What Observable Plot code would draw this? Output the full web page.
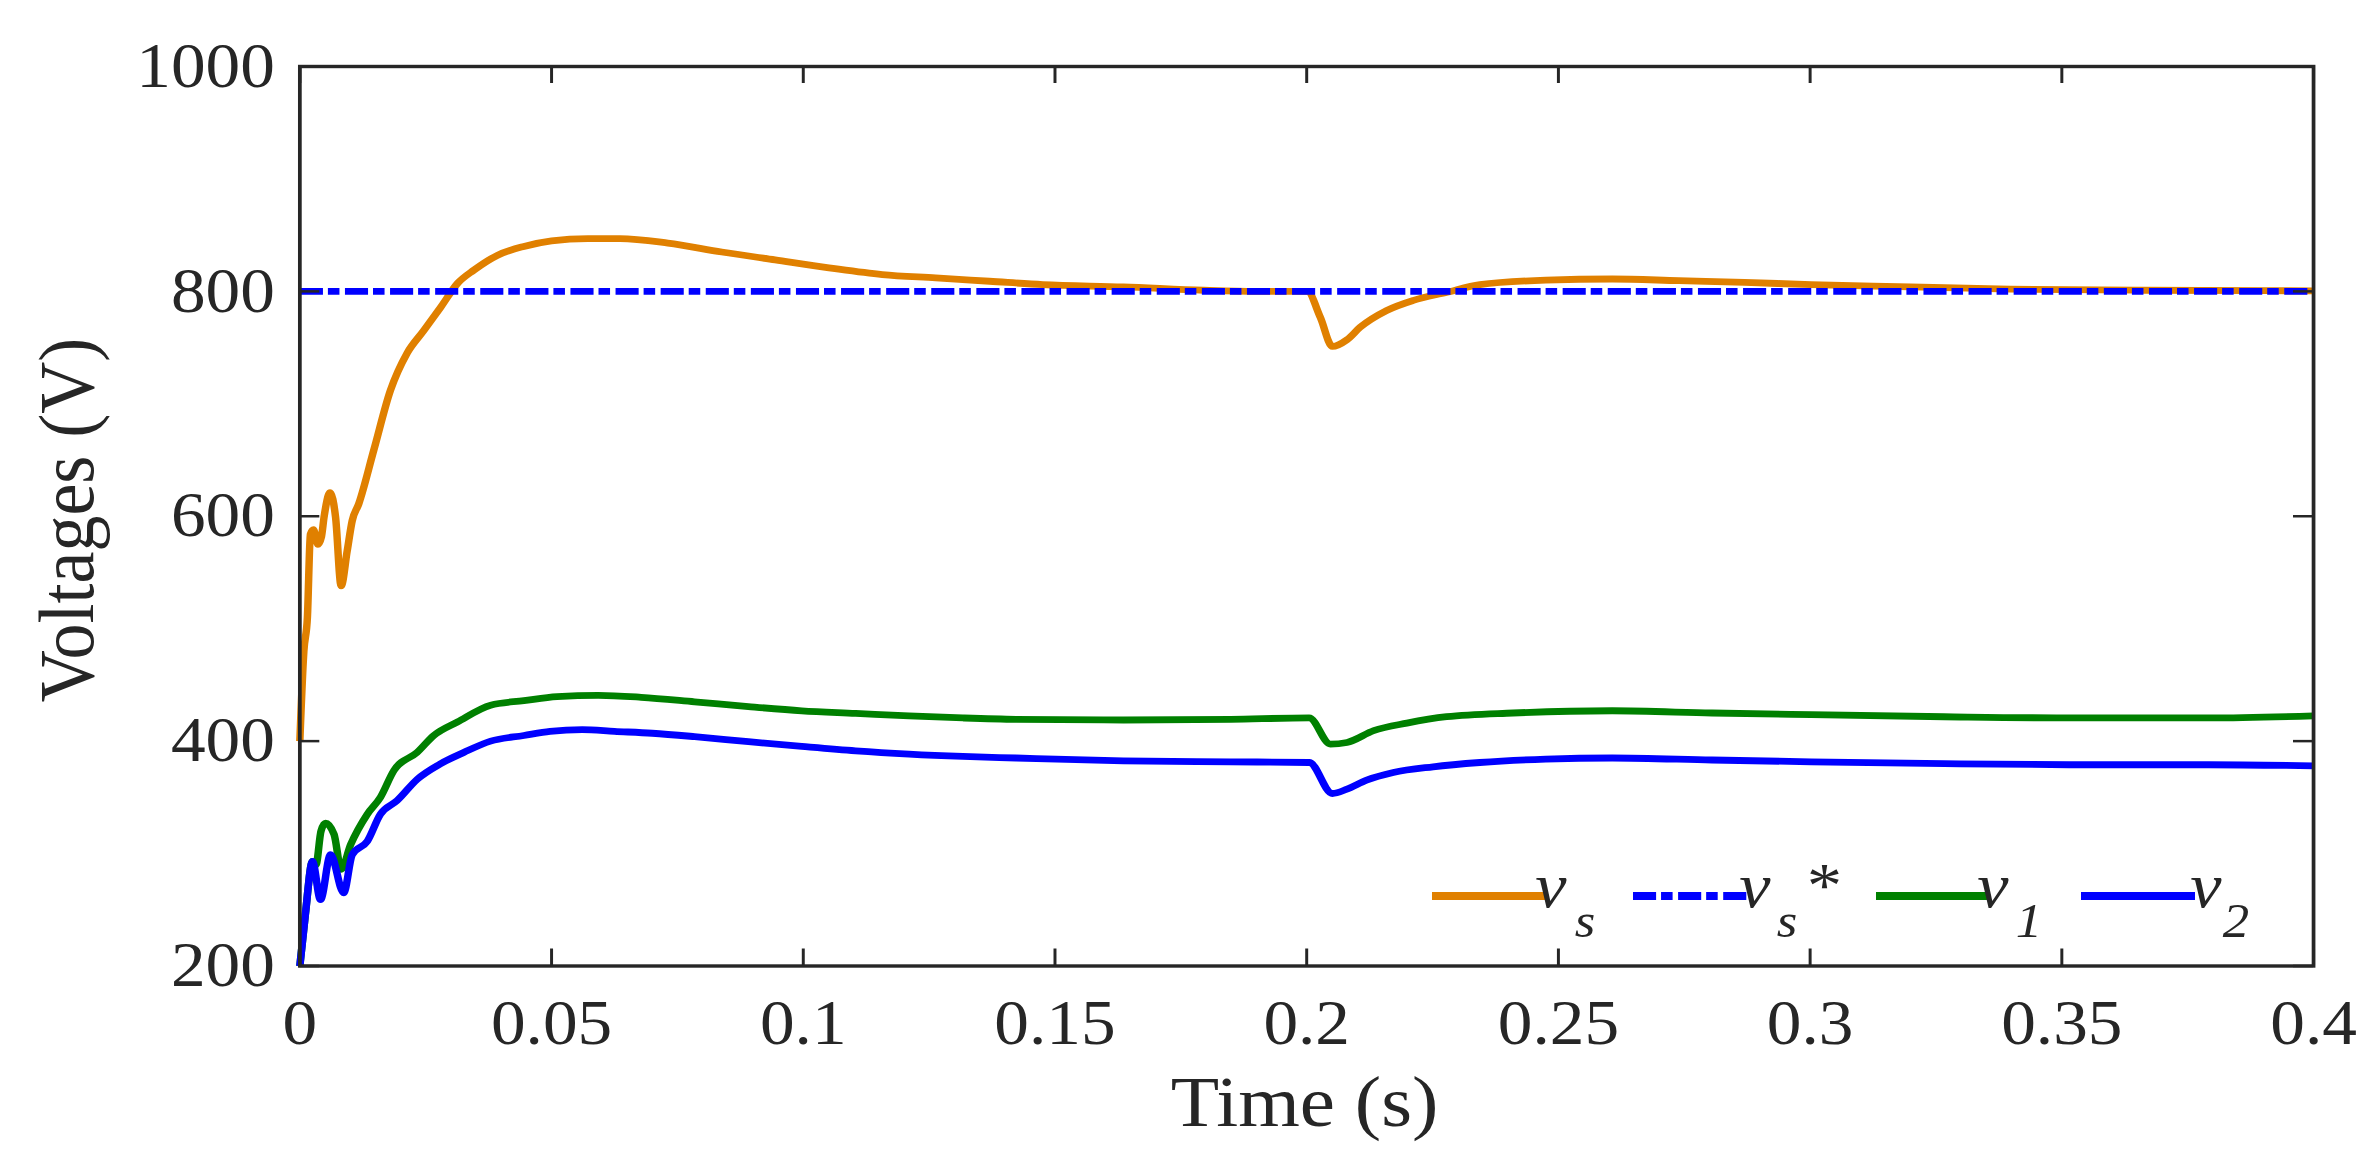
<!DOCTYPE html>
<html>
<head>
<meta charset="utf-8">
<script src="https://cdn.jsdelivr.net/npm/d3@7"></script>
<script src="https://cdn.jsdelivr.net/npm/@observablehq/plot@0.6"></script>
<style>
  html, body { margin: 0; padding: 0; background: #fff; overflow: hidden; }
</style>
</head>
<body>
<div id="chart"></div>
<script>
// ---- data ----
const xTicks = [0, 0.05, 0.1, 0.15, 0.2, 0.25, 0.3, 0.35, 0.4];
const yTicks = [200, 400, 600, 800, 1000];

const tVs = [0, 0.0008, 0.0015, 0.0021, 0.0027, 0.0036, 0.0043, 0.0048, 0.006, 0.0071, 0.0082, 0.0094, 0.0104, 0.0117, 0.0147, 0.018, 0.0213, 0.0246, 0.028, 0.0313, 0.0346, 0.0392, 0.0445, 0.05, 0.0572, 0.0636, 0.0731, 0.0838, 0.0944, 0.1051, 0.1157, 0.1263, 0.137, 0.1476, 0.1636, 0.1795, 0.19, 0.2001, 0.2027, 0.2051, 0.208, 0.2106, 0.2159, 0.2212, 0.2277, 0.2344, 0.2475, 0.2607, 0.2739, 0.287, 0.3002, 0.32, 0.3397, 0.366, 0.4];
const vs  = [400, 480, 510, 584, 588, 575, 582, 599, 621, 599, 538, 569, 596, 611, 659, 712, 745, 765, 786, 807, 819, 832, 840, 845, 847, 847, 843, 835, 828, 821, 815, 812, 809, 806, 804, 801, 800, 800, 777, 751, 757, 768, 783, 792, 799, 806, 810, 811, 809.5, 808, 806, 804, 802, 801, 800.5];

const tRef = [0, 0.4];
const vsRef = [800, 800];

const tV1 = [0, 0.0011, 0.0025, 0.0032, 0.0042, 0.0051, 0.0068, 0.0082, 0.0101, 0.0134, 0.016, 0.0187, 0.0233, 0.0266, 0.0313, 0.0379, 0.0445, 0.0511, 0.0593, 0.0678, 0.0784, 0.0891, 0.0997, 0.1104, 0.121, 0.1317, 0.1423, 0.1636, 0.1849, 0.2005, 0.2047, 0.208, 0.2133, 0.2199, 0.2278, 0.241, 0.2607, 0.2805, 0.3002, 0.3266, 0.3529, 0.3792, 0.4];
const v1  = [200, 246, 293, 290, 320, 327, 317, 286, 308, 335, 350, 374, 390, 405, 417, 432, 436, 439.6, 440.7, 439, 435, 430.7, 427, 424.7, 422.4, 420.6, 419.4, 418.8, 419.4, 420.6, 397.4, 398.8, 409.3, 416, 421.7, 425, 427, 425, 423.5, 421.7, 420.6, 420.6, 422.5];

const tV2 = [0, 0.0011, 0.0025, 0.0041, 0.0061, 0.0087, 0.0104, 0.0134, 0.016, 0.0193, 0.0233, 0.028, 0.0326, 0.0379, 0.0445, 0.0497, 0.0561, 0.0625, 0.07, 0.0784, 0.0891, 0.0997, 0.1104, 0.121, 0.1317, 0.1423, 0.1636, 0.1849, 0.2005, 0.2051, 0.208, 0.2119, 0.2172, 0.2251, 0.2344, 0.2475, 0.2607, 0.2805, 0.3002, 0.3266, 0.3529, 0.3792, 0.4];
const v2  = [200, 246, 293, 259, 299, 265, 299, 311, 335, 347, 366, 380, 390, 400, 405, 408.7, 410.2, 408.7, 407, 404, 399.5, 395.3, 391.4, 388.5, 386.4, 385, 382.5, 381.6, 381, 353.4, 357.3, 365.3, 372.1, 377.2, 381, 384, 385, 383.2, 381.6, 380, 379, 379, 378];

const xLabel = "Time (s)";
const yLabel = "Voltages (V)";

// ---- layout / style ----
const ORANGE = "#E08000", BLUE = "#0000FF", GREEN = "#008000", INK = "#262626";
const W = 2377, H = 1160;
const S = 1.1;                 // horizontal stretch of the reference figure
const W0 = W / S;
const plotLeft = 299.3 / S, plotRight = 2313 / S;
const plotTop = 66, plotBottom = 965.5;
const frameW = plotRight - plotLeft, frameH = plotBottom - plotTop;
const FONT = "'Liberation Serif', 'Times New Roman', Times, serif";

const toRows = (ts, vals) => ts.map((t, i) => ({t, v: vals[i]}));

const lineOpts = {x: "t", y: "v", strokeWidth: 6.8, curve: "monotone-x", strokeLinejoin: "round", strokeLinecap: "butt"};

const svg = Plot.plot({
  width: W0,
  height: H,
  marginLeft: plotLeft,
  marginRight: W0 - plotRight,
  marginTop: plotTop,
  marginBottom: H - plotBottom,
  style: {fontFamily: FONT, fontSize: "63px", color: INK, background: "#fff"},
  x: {domain: [0, 0.4]},
  y: {domain: [200, 1000]},
  marks: [
    Plot.line(toRows(tVs, vs), {...lineOpts, stroke: ORANGE}),
    Plot.line(toRows(tRef, vsRef), {...lineOpts, stroke: BLUE, strokeDasharray: "21,4.5,10.5,5"}),
    Plot.line(toRows(tV1, v1), {...lineOpts, stroke: GREEN}),
    Plot.line(toRows(tV2, v2), {...lineOpts, stroke: BLUE}),
    // inward ticks, mirrored on all four sides
    Plot.tickX(xTicks, {x: d => d, insetTop: frameH - 17, stroke: INK, strokeWidth: 2.7}),
    Plot.tickX(xTicks, {x: d => d, insetBottom: frameH - 17, stroke: INK, strokeWidth: 2.7}),
    Plot.tickY(yTicks, {y: d => d, insetRight: frameW - 18.2, stroke: INK, strokeWidth: 2.5}),
    Plot.tickY(yTicks, {y: d => d, insetLeft: frameW - 18.2, stroke: INK, strokeWidth: 2.5}),
    Plot.frame({stroke: INK, strokeWidth: 3.4}),
    Plot.axisX({ticks: xTicks, tickSize: 0, tickPadding: 33, tickFormat: d => String(d), label: null, fontSize: 63, fill: INK}),
    Plot.axisY({ticks: yTicks, tickSize: 0, tickPadding: 22.7, tickFormat: d => String(d), label: null, fontSize: 63, fill: INK})
  ]
});

// stretch horizontally like the reference
svg.setAttribute("viewBox", `0 0 ${W0} ${H}`);
svg.setAttribute("preserveAspectRatio", "none");
svg.setAttribute("width", W);
svg.setAttribute("height", H);
svg.style.width = W + "px";
svg.style.height = H + "px";
svg.style.maxWidth = "none";

const g = d3.select(svg).append("g").attr("font-family", FONT).attr("fill", INK);

// axis titles
g.append("text")
  .attr("x", 1304.5 / S).attr("y", 1125.7)
  .attr("text-anchor", "middle").attr("font-size", 72)
  .text(xLabel);
g.append("text")
  .attr("transform", `translate(${92.7 / S},520) rotate(-90)`)
  .attr("text-anchor", "middle").attr("font-size", 72)
  .text(yLabel);

// legend (inside the axes, bottom right)
const legendItems = [
  {color: ORANGE, dash: null, x1: 1432, x2: 1545, main: "v", mainX: 1551, sub: "s", subX: 1585, tail: null},
  {color: BLUE, dash: "21,4.5,10.5,5", x1: 1633, x2: 1747, main: "v", mainX: 1755, sub: "s", subX: 1787, tail: "*", tailX: 1821},
  {color: GREEN, dash: null, x1: 1876, x2: 1987, main: "v", mainX: 1993, sub: "1", subX: 2029, tail: null},
  {color: BLUE, dash: null, x1: 2081, x2: 2195, main: "v", mainX: 2206, sub: "2", subX: 2236, tail: null}
];
const legY = 896, baseY = 906.7, subY = 937;
const lg = g.append("g").attr("font-style", "italic");
for (const it of legendItems) {
  const ln = lg.append("line")
    .attr("x1", it.x1 / S).attr("x2", it.x2 / S)
    .attr("y1", legY).attr("y2", legY)
    .attr("stroke", it.color).attr("stroke-width", 8);
  if (it.dash) ln.attr("stroke-dasharray", it.dash);
  lg.append("text").attr("x", it.mainX / S).attr("y", baseY).attr("font-size", 64).text(it.main);
  lg.append("text").attr("x", it.subX / S).attr("y", subY).attr("font-size", 48).text(it.sub);
  if (it.tail) lg.append("text").attr("x", it.tailX / S).attr("y", baseY).attr("font-size", 64).text(it.tail);
}

document.getElementById("chart").appendChild(svg);
</script>
</body>
</html>
